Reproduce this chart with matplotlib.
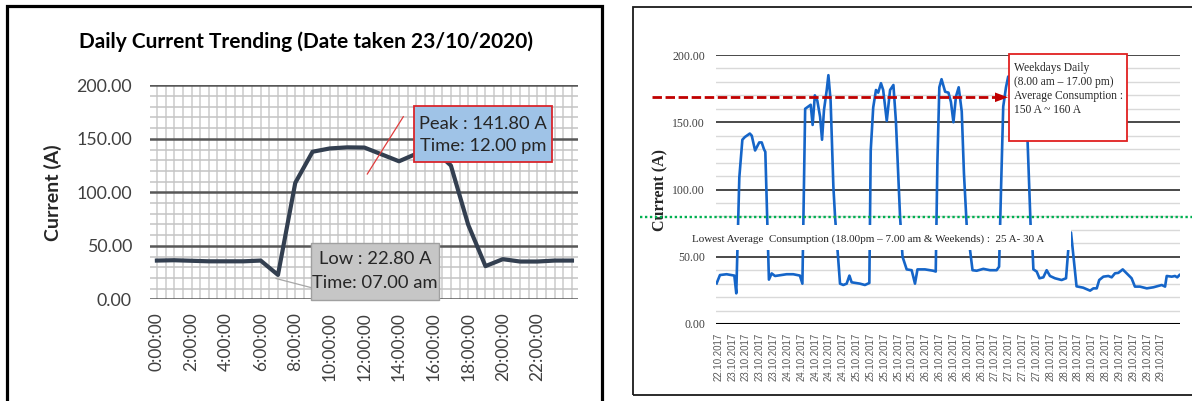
import numpy as np
import matplotlib
matplotlib.use("Agg")
import matplotlib.pyplot as plt
from matplotlib.patches import Rectangle
from matplotlib.lines import Line2D

# ---- left chart: one day, hourly readings (23/10/2020) ----
day_hours = list(range(25))
day_current = [36.2, 36.5, 36.0, 35.5, 35.5, 35.5, 36.2, 22.8, 108.8, 137.9,
               141.0, 142.0, 141.8, 135.4, 129.0, 136.0, 140.0, 125.0, 69.7, 31.0,
               37.5, 35.3, 35.3, 36.2, 36.2]
day_tick_hours = [0, 2, 4, 6, 8, 10, 12, 14, 16, 18, 20, 22]
day_tick_labels = ["0:00:00", "2:00:00", "4:00:00", "6:00:00", "8:00:00", "10:00:00",
                   "12:00:00", "14:00:00", "16:00:00", "18:00:00", "20:00:00", "22:00:00"]

# ---- right chart: one week, hours counted from the first label ----
week_hours = [-0.6, 0.6, 3.0, 5.8, 6.5, 7.6, 8.7, 9.6, 11.4, 12.1,
              13.3, 14.8, 15.7, 16.5, 17.0, 18.3, 19.3, 20.5, 24.7, 27.1,
              29.5, 30.4, 31.4, 32.5, 33.4, 34.1, 34.9, 35.8, 36.8, 37.5,
              38.2, 39.2, 39.8, 40.6, 41.6, 42.2, 44.0, 45.2, 46.4, 47.4,
              48.2, 51.2, 53.0, 54.6, 55.1, 56.0, 57.0, 57.8, 58.8, 59.6,
              60.9, 62.1, 63.3, 64.2, 65.7, 66.6, 68.1, 69.9, 71.1, 72.0,
              74.7, 77.7, 78.6, 79.2, 79.9, 80.7, 82.0, 83.2, 84.1, 85.0,
              85.9, 86.9, 88.0, 88.8, 89.8, 91.0, 91.9, 93.4, 95.8, 98.2,
              100.6, 101.5, 102.2, 103.0, 104.0, 104.8, 106.6, 108.4, 110.3, 111.8,
              112.9, 113.6, 113.9, 115.1, 116.1, 117.5, 118.7, 119.9, 121.7, 124.1,
              125.7, 126.5, 127.5, 129.5, 131.9, 134.4, 135.6, 136.8, 137.7, 139.2,
              141.0, 142.2, 143.4, 144.6, 146.2, 147.6, 149.4, 150.6, 152.4, 154.9,
              157.3, 159.1, 160.3, 161.5, 162.1, 163.9, 165.1, 165.9, 166.7]
week_current = [30.2, 36.4, 37.0, 36.0, 22.8, 109.0, 137.0, 139.0, 141.6, 140.0,
                129.0, 135.0, 135.0, 130.0, 128.0, 33.0, 37.6, 35.7, 37.0, 37.0,
                36.0, 30.0, 160.0, 161.6, 163.0, 148.0, 170.0, 166.0, 154.0, 137.0,
                159.0, 174.0, 185.0, 166.0, 102.0, 80.0, 30.0, 29.0, 30.0, 36.0,
                31.0, 30.0, 29.0, 30.5, 129.0, 161.0, 174.0, 172.0, 179.0, 174.0,
                151.0, 174.0, 177.7, 151.0, 80.0, 50.0, 40.6, 40.0, 30.0, 40.6,
                40.6, 39.6, 39.0, 120.0, 176.0, 182.0, 172.7, 172.0, 165.0, 150.0,
                169.0, 176.0, 158.0, 112.0, 73.0, 55.0, 40.0, 39.6, 41.0, 40.0,
                40.0, 42.6, 100.0, 161.6, 176.0, 184.0, 178.0, 172.0, 170.0, 136.0,
                73.0, 55.0, 40.6, 39.0, 34.0, 34.7, 40.0, 35.7, 34.0, 32.7,
                34.0, 55.0, 68.0, 28.0, 27.0, 24.8, 26.5, 26.5, 32.7, 35.2,
                35.7, 34.7, 37.7, 38.0, 40.6, 37.7, 34.0, 27.8, 27.8, 26.5,
                27.3, 28.3, 29.0, 27.8, 35.7, 35.2, 35.7, 34.7, 36.4]
week_tick_hours = list(range(0, 161, 5))
week_tick_labels = ["22.10.2017",
                    "23.10.2017", "23.10.2017", "23.10.2017", "23.10.2017",
                    "24.10.2017", "24.10.2017", "24.10.2017", "24.10.2017", "24.10.2017",
                    "25.10.2017", "25.10.2017", "25.10.2017", "25.10.2017", "25.10.2017",
                    "26.10.2017", "26.10.2017", "26.10.2017", "26.10.2017", "26.10.2017",
                    "27.10.2017", "27.10.2017", "27.10.2017", "27.10.2017",
                    "28.10.2017", "28.10.2017", "28.10.2017", "28.10.2017", "28.10.2017",
                    "29.10.2017", "29.10.2017", "29.10.2017", "29.10.2017"]

W, H = 1192, 401


def fx(x):
    return x / W


def fy(y):
    return 1 - y / H


fig = plt.figure(figsize=(W / 100, H / 100), dpi=100)
fig.patch.set_facecolor("white")

SANS = "Lato"
SERIF = "Liberation Serif"

# ================= left chart =================
ax1 = fig.add_axes([fx(150), fy(299.3), (578 - 150) / W, (299.3 - 85.3) / H])
ax1.set_xlim(-0.4, 24.35)
ax1.set_ylim(0, 200)
for v in np.arange(-0.5, 24.6, 0.5):
    ax1.axvline(v, color="#cbcbcb", lw=1.1, zorder=1)
for v in range(0, 201, 10):
    if v % 50:
        ax1.axhline(v, color="#c4c4c4", lw=1.1, zorder=1)
for v in range(0, 201, 50):
    ax1.axhline(v, color="#585858", lw=1.8, zorder=2)
ax1.plot(day_hours, day_current, color="#333f50", lw=3.0, zorder=3,
         solid_joinstyle="round")
ax1.set_yticks(range(0, 201, 50))
ax1.set_yticklabels([f"{v:.2f}" for v in range(0, 201, 50)])
ax1.set_xticks(day_tick_hours)
ax1.set_xticklabels(day_tick_labels, rotation=90)
ax1.tick_params(axis="y", length=0, pad=13, labelsize=12.8, labelcolor="#404040")
ax1.tick_params(axis="x", length=0, pad=9, labelsize=12.5, labelcolor="#404040")
for lab in ax1.get_xticklabels() + ax1.get_yticklabels():
    lab.set_fontfamily(SANS)
for s in ax1.spines.values():
    s.set_visible(False)

fig.text(fx(306), fy(42), "Daily Current Trending (Date taken 23/10/2020)",
         ha="center", va="center", fontsize=15, fontweight="bold",
         family=SANS, color="black")
fig.text(fx(53), fy(193), "Current (A)", rotation=90, ha="center", va="center",
         fontsize=14, fontweight="bold", family=SANS, color="#262626")

# peak call-out
fig.add_artist(Line2D([fx(403.3), fx(367.3)], [fy(116.7), fy(174)],
                      color="#e03c3c", lw=0.9, zorder=5))
fig.add_artist(Rectangle((fx(414.3), fy(162.3)), (551.7 - 414.3) / W,
                         (162.3 - 106) / H, facecolor="#9fc3e7",
                         edgecolor="#d9262c", lw=1.3, zorder=5))
fig.text(fx(483), fy(123.5), "Peak : 141.80 A", ha="center", va="center",
         fontsize=13.2, family=SANS, color="#262626", zorder=6)
fig.text(fx(483), fy(146.5), "Time: 12.00 pm", ha="center", va="center",
         fontsize=13.2, family=SANS, color="#262626", zorder=6)

# low call-out
fig.add_artist(Line2D([fx(276), fx(310.7)], [fy(278.5), fy(287.5)],
                      color="#a6a6a6", lw=0.9, zorder=5))
fig.add_artist(Rectangle((fx(310.7), fy(300)), (439.3 - 310.7) / W,
                         (300 - 243.3) / H, facecolor="#c6c6c6",
                         edgecolor="#a0a0a0", lw=1.0, zorder=5))
fig.text(fx(375), fy(259), "Low : 22.80 A", ha="center", va="center",
         fontsize=13.2, family=SANS, color="#262626", zorder=6)
fig.text(fx(375), fy(283.5), "Time: 07.00 am", ha="center", va="center",
         fontsize=13.2, family=SANS, color="#262626", zorder=6)

# panel frame
fig.add_artist(Rectangle((fx(7), fy(430)), (602 - 7) / W, (430 - 6) / H,
                         fill=False, edgecolor="black", lw=2.3, zorder=8))

# ================= right chart =================
ax2 = fig.add_axes([fx(716), fy(324), (1180 - 716) / W, (324 - 55) / H])
ax2.set_xlim(-0.83, 166.9)
ax2.set_ylim(0, 200)
for v in range(10, 201, 10):
    if v % 50:
        ax2.axhline(v, color="#d9d9d9", lw=1.0, zorder=1)
for v in range(50, 201, 50):
    ax2.axhline(v, color="#3a3a3a", lw=1.3, zorder=2)
ax2.axhline(0, color="black", lw=1.5, zorder=2)
ax2.plot(week_hours, week_current, color="#1565c8", lw=1.9, zorder=3,
         solid_joinstyle="round")
ax2.set_yticks(range(0, 201, 50))
ax2.set_yticklabels([f"{v:.2f}" for v in range(0, 201, 50)])
ax2.set_xticks(week_tick_hours)
ax2.set_xticklabels(week_tick_labels, rotation=90)
ax2.tick_params(axis="y", length=0, pad=8, labelsize=8.5, labelcolor="#404040")
ax2.tick_params(axis="x", length=0, pad=6.5, labelsize=7, labelcolor="#595959")
for lab in ax2.get_yticklabels():
    lab.set_fontfamily(SERIF)
for lab in ax2.get_xticklabels():
    lab.set_fontfamily("Liberation Sans")
for s in ax2.spines.values():
    s.set_visible(False)

# white label band that hides the trace
fig.add_artist(Rectangle((fx(688), fy(249.5)), (1070.7 - 688) / W,
                         (249.5 - 224.5) / H, facecolor="white",
                         edgecolor="none", zorder=5))
fig.text(fx(692), fy(239.5),
         "Lowest Average  Consumption (18.00pm \u2013 7.00 am & Weekends) :  25 A- 30 A",
         ha="left", va="center", fontsize=8.0, family=SERIF, color="#262626",
         zorder=6)

fig.text(fx(660), fy(190), "Current (A)", rotation=90, ha="center", va="center",
         fontsize=11.5, fontweight="bold", family=SERIF, color="#262626",
         zorder=6)

# average band markers
fig.add_artist(Line2D([fx(640), fx(1192)], [fy(216.7), fy(216.7)],
                      color="#00b050", lw=1.7, ls=(0, (1, 1.1)), zorder=7))
fig.add_artist(Line2D([fx(652), fx(996)], [fy(97.3), fy(97.3)],
                      color="#c00000", lw=2.0, ls=(0, (3.4, 1.3)), zorder=7))
fig.add_artist(plt.Polygon([[fx(995), fy(92.5)], [fx(1008), fy(97.3)],
                            [fx(995), fy(102.1)]], closed=True,
                           facecolor="#c00000", edgecolor="none", zorder=7))

# weekday call-out
fig.add_artist(Rectangle((fx(1009.3), fy(140.7)), (1126.7 - 1009.3) / W,
                         (140.7 - 54) / H, facecolor="white",
                         edgecolor="#e02020", lw=1.3, zorder=5))
callout_lines = ["Weekdays Daily", "(8.00 am \u2013 17.00 pm)",
                 "Average Consumption :", "150 A ~ 160 A"]
for i, t in enumerate(callout_lines):
    fig.text(fx(1014), fy(68.3 + 14 * i), t, ha="left", va="center",
             fontsize=8.3, family=SERIF, color="#262626", zorder=6)

# panel frame
fig.add_artist(Rectangle((fx(633), fy(395)), (1230 - 633) / W, (395 - 7) / H,
                         fill=False, edgecolor="#1a1a1a", lw=1.3, zorder=8))

fig.savefig("out.png", dpi=100, facecolor="white")
